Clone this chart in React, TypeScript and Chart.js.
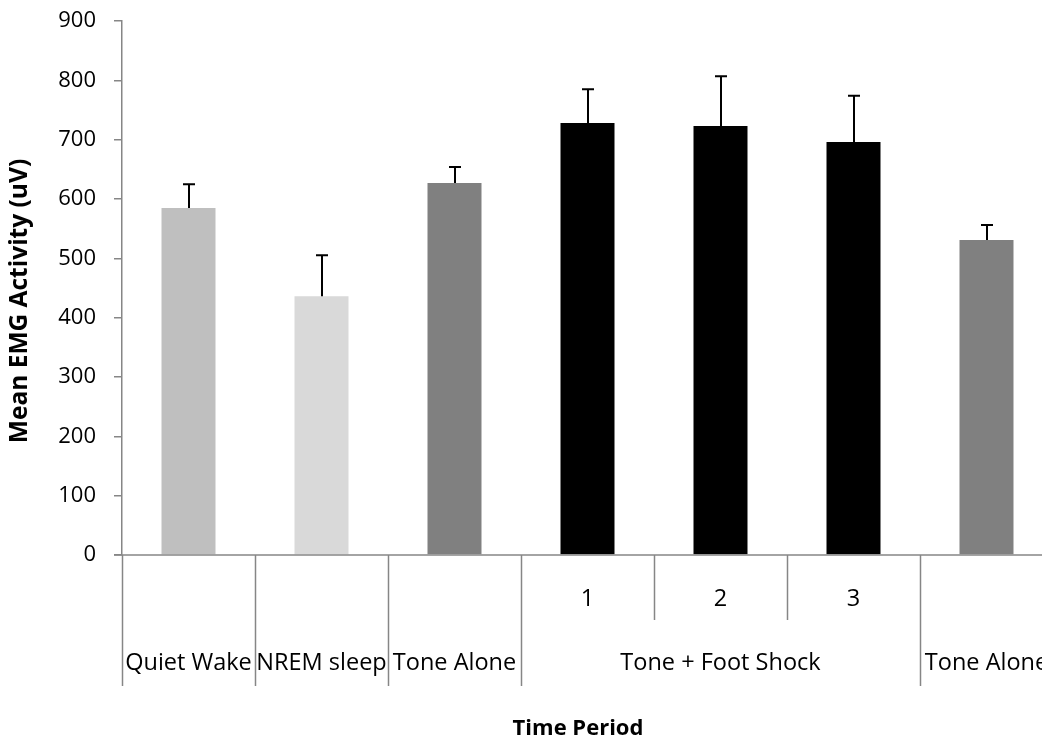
import React, { useEffect, useRef } from "react";
import { Chart, registerables } from "chart.js";

Chart.register(...registerables);

// ---- data ----
const categories = ["Quiet Wake", "NREM sleep", "Tone Alone", "Shock 1", "Shock 2", "Shock 3", "Tone Alone (after)"];
const subLabels = ["", "", "", "1", "2", "3", ""];
const groupLabels = ["Quiet Wake", "NREM sleep", "Tone Alone", "Tone + Foot Shock", "Tone Alone"];
const groupSpans = [1, 1, 1, 3, 1];
const meanValues = [585, 436, 627, 728, 723, 696, 531];
const errorValues = [40, 69, 27, 57, 84, 78, 25];
const barColors = ["#BFBFBF", "#D9D9D9", "#808080", "#000000", "#000000", "#000000", "#808080"];
const yTitle = "Mean EMG Activity (uV)";
const xTitle = "Time Period";

const FONT = "'Open Sans', sans-serif";
const AXIS_COLOR = "#868686";

const customPlugin = {
  id: "custom",
  afterDatasetsDraw(chart: any) {
    const ctx = chart.ctx;
    const x = chart.scales.x;
    const y = chart.scales.y;
    ctx.save();
    ctx.strokeStyle = "#000";
    ctx.lineWidth = 2;
    meanValues.forEach((v, i) => {
      const px = Math.round(x.getPixelForValue(i));
      const y0 = y.getPixelForValue(v);
      const y1 = y.getPixelForValue(v + errorValues[i]);
      ctx.beginPath();
      ctx.moveTo(px, y0);
      ctx.lineTo(px, y1);
      ctx.moveTo(px - 6, y1);
      ctx.lineTo(px + 6, y1);
      ctx.stroke();
    });
    ctx.restore();
  },
  afterDraw(chart: any) {
    const ctx = chart.ctx;
    const x = chart.scales.x;
    const y = chart.scales.y;
    const area = chart.chartArea;
    const baseY = y.getPixelForValue(0);
    const n = categories.length;
    const step = n > 1 ? x.getPixelForValue(1) - x.getPixelForValue(0) : area.right - area.left;
    const boundary = (i: number) => x.getPixelForValue(i) - step / 2;
    ctx.save();
    // x axis line
    ctx.strokeStyle = AXIS_COLOR;
    ctx.lineWidth = 1.5;
    ctx.beginPath();
    ctx.moveTo(area.left - 8, baseY);
    ctx.lineTo(area.right, baseY);
    ctx.stroke();

    // group boundaries
    const groupStarts: number[] = [];
    let acc = 0;
    groupSpans.forEach((s) => {
      groupStarts.push(acc);
      acc += s;
    });
    const outerSet = new Set<number>([...groupStarts, n]);
    for (let i = 0; i <= n; i++) {
      const bx = Math.round(boundary(i)) + 0.5;
      const bottom = outerSet.has(i) ? baseY + 131 : baseY + 65;
      ctx.beginPath();
      ctx.moveTo(bx, baseY);
      ctx.lineTo(bx, bottom);
      ctx.stroke();
    }

    // labels
    ctx.fillStyle = "#000";
    ctx.textAlign = "center";
    ctx.textBaseline = "middle";
    ctx.font = `23.5px ${FONT}`;
    subLabels.forEach((t, i) => {
      if (t) ctx.fillText(t, x.getPixelForValue(i), baseY + 44);
    });
    groupLabels.forEach((t, g) => {
      const s = groupStarts[g];
      const e = s + groupSpans[g];
      const cx = (boundary(s) + boundary(e)) / 2;
      ctx.fillText(t, cx, baseY + 108);
    });

    // axis titles
    ctx.font = `bold 22px ${FONT}`;
    ctx.fillText(xTitle, 578, 729);
    ctx.font = `bold 24.5px ${FONT}`;
    ctx.translate(20, 301);
    ctx.rotate(-Math.PI / 2);
    ctx.fillText(yTitle, 0, 0);
    ctx.restore();
  },
};

export default function App() {
  const ref = useRef<HTMLCanvasElement | null>(null);
  useEffect(() => {
    if (!ref.current) return;
    const chart = new Chart(ref.current, {
      type: "bar",
      data: {
        labels: categories,
        datasets: [
          {
            data: meanValues,
            backgroundColor: barColors,
            borderWidth: 0,
            categoryPercentage: 1,
            barPercentage: 0.406,
          },
        ],
      },
      options: {
        animation: false,
        responsive: false,
        maintainAspectRatio: false,
        layout: { padding: { top: 21, left: 0, right: 7, bottom: 0 } },
        plugins: { legend: { display: false }, tooltip: { enabled: false }, title: { display: false } },
        scales: {
          x: {
            type: "category",
            grid: { display: false },
            border: { display: false },
            ticks: { display: false },
            afterFit: (s: any) => {
              s.height = 186;
              s.paddingLeft = 0;
              s.paddingRight = 0;
            },
          },
          y: {
            min: 0,
            max: 900,
            ticks: {
              stepSize: 100,
              padding: 18,
              color: "#000",
              font: { family: FONT, size: 22 },
            },
            grid: {
              drawOnChartArea: false,
              drawTicks: true,
              tickLength: 8,
              color: AXIS_COLOR,
              lineWidth: 1.5,
            },
            border: { display: true, color: AXIS_COLOR, width: 1.5 },
            afterFit: (s: any) => {
              s.width = 122;
              s.paddingTop = 0;
              s.paddingBottom = 0;
            },
          },
        },
      },
      plugins: [customPlugin],
    });
    return () => chart.destroy();
  }, []);
  return (
    <div
      style={{
        position: "fixed",
        left: 0,
        top: 0,
        width: 1042,
        height: 741,
        overflow: "hidden",
        background: "#fff",
      }}
    >
      <canvas ref={ref} width={1060} height={741} style={{ display: "block", width: 1060, height: 741 }} />
    </div>
  );
}
